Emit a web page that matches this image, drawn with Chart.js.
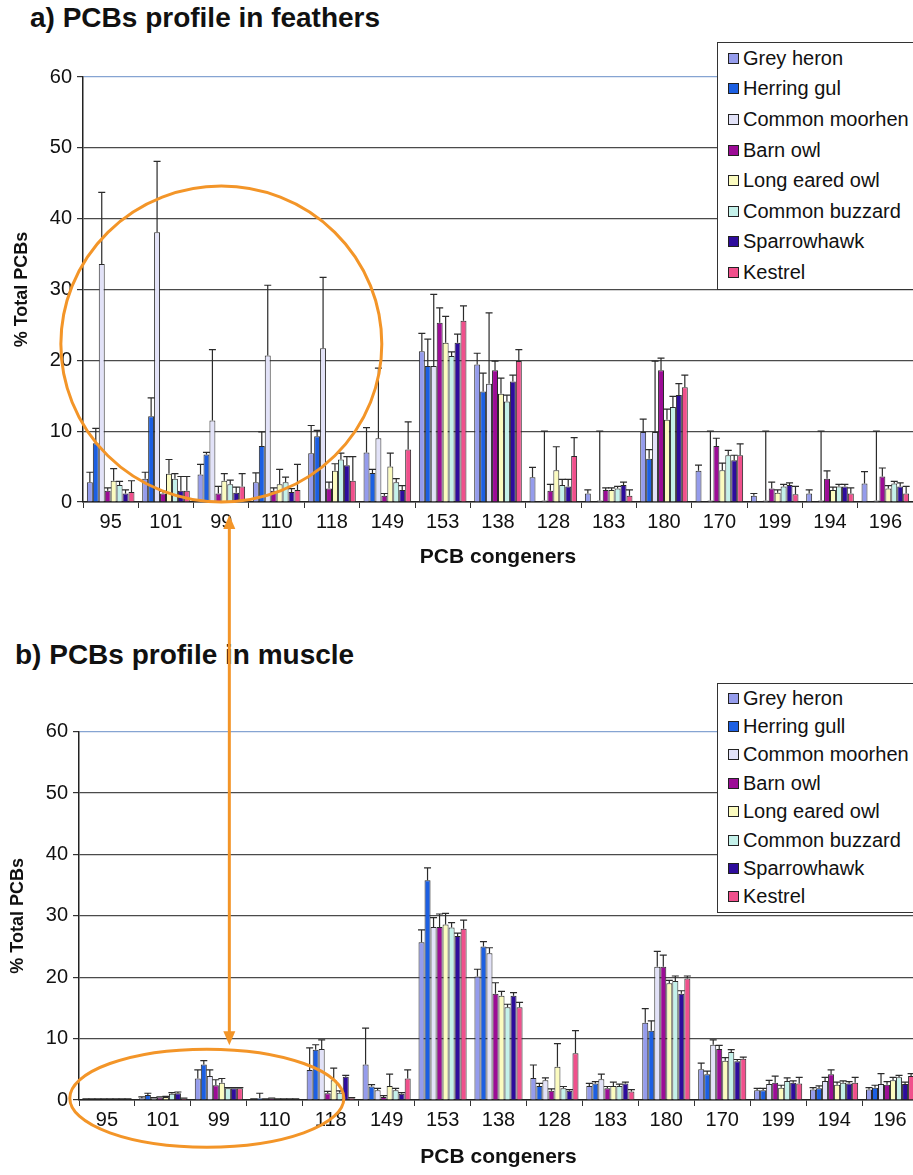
<!DOCTYPE html>
<html>
<head>
<meta charset="utf-8">
<script src="https://cdn.jsdelivr.net/npm/chart.js@4"></script>
<style>
  html, body { margin: 0; padding: 0; background: #fff; overflow: hidden; }
  body { width: 913px; height: 1175px; position: relative; font-family: "Liberation Sans", Arial, sans-serif; color: #111; }
  .panelTitle { position: absolute; font-weight: bold; font-size: 28px; line-height: 1; white-space: nowrap; }
  .chartBox { position: absolute; left: 0; }
  .legend { position: absolute; background: #fff; border: 1px solid #333; z-index: 2; }
  .legend .item { display: flex; align-items: center; font-size: 20px; white-space: nowrap; }
  .legend .sw { width: 9px; height: 9px; border: 1px solid #222; margin: 0 4px 0 10px; }
  #overlay { position: absolute; left: 0; top: 0; z-index: 5; pointer-events: none; }
</style>
</head>
<body>

<div class="panelTitle" style="left:30px; top:4px;">a) PCBs profile in feathers</div>
<div class="chartBox" style="top:0; width:913px; height:580px;"><canvas id="chartA" width="913" height="580"></canvas></div>
<div class="legend" id="legendA" style="left:717px; top:42px; width:220px; height:246px;"></div>

<div class="panelTitle" style="left:15px; top:641px;">b) PCBs profile in muscle</div>
<div class="chartBox" style="top:600px; width:918px; height:575px;"><canvas id="chartB" width="918" height="575"></canvas></div>
<div class="legend" id="legendB" style="left:717px; top:683px; width:220px; height:228px;"></div>

<canvas id="overlay" width="913" height="1175"></canvas>

<script>
// ============================================
// DATOS
// ============================================
const congeners = ['95', '101', '99', '110', '118', '149', '153', '138', '128', '183', '180', '170', '199', '194', '196'];

const speciesA = ['Grey heron', 'Herring gul', 'Common moorhen', 'Barn owl', 'Long eared owl', 'Common buzzard', 'Sparrowhawk', 'Kestrel'];
const speciesB = ['Grey heron', 'Herring gull', 'Common moorhen', 'Barn owl', 'Long eared owl', 'Common buzzard', 'Sparrowhawk', 'Kestrel'];
const colores = ['#959cec', '#1c5fe2', '#e2e2f8', '#9c0c96', '#fbfbbf', '#c4f1ea', '#2e0c9c', '#f0508c'];

// a) plumas - % del total de PCBs (media) y desviación
const heronA    = [2.8, 3.3, 3.9, 2.8, 6.9, 7.0, 21.3, 19.4, 3.5, 1.2, 9.9, 4.4, 0.9, 1.2, 2.6];
const heronA_sd = [1.4, 0.9, 1.4, 1.3, 3.9, 3.5, 2.5, 1.6, 1.4, 0.5, 1.8, 0.8, 0.3, 0.5, 1.7];
const gullA     = [8.3, 12.1, 6.7, 7.9, 9.3, 4.1, 19.2, 15.6, 0, 0, 6.1, 0, 0, 0, 0];
const gullA_sd  = [2.1, 2.6, 0.3, 2.0, 0.8, 0.5, 3.8, 2.6, 0, 0, 1.3, 0, 0, 0, 0];
const moorA     = [33.6, 38.1, 11.5, 20.7, 21.7, 9.0, 19.2, 16.7, 0.2, 0.2, 9.9, 0.2, 0.2, 0.2, 0.2];
const moorA_sd  = [10.1, 10.0, 10.0, 9.9, 10.0, 9.9, 10.1, 10.0, 9.8, 9.8, 10.0, 9.8, 9.8, 9.8, 9.8];
const barnA     = [1.6, 1.2, 1.2, 1.6, 1.9, 0.9, 25.3, 18.6, 1.6, 1.7, 18.6, 7.9, 1.9, 3.3, 3.6];
const barnA_sd  = [0.4, 0.3, 1.0, 0.4, 0.9, 0.3, 2.1, 1.3, 0.9, 0.3, 1.7, 1.1, 0.9, 1.1, 1.2];
const leoA      = [3.0, 4.0, 3.0, 2.5, 4.4, 5.0, 22.5, 15.3, 4.5, 1.7, 11.6, 4.5, 1.3, 1.7, 1.9];
const leoA_sd   = [1.7, 2.0, 1.0, 2.1, 1.0, 1.9, 3.7, 2.2, 3.3, 0.3, 1.5, 1.0, 0.4, 0.4, 0.4];
const buzzA     = [2.4, 3.3, 2.5, 2.8, 6.0, 2.8, 20.6, 14.2, 2.4, 1.9, 13.4, 6.6, 2.2, 2.2, 2.6];
const buzzA_sd  = [0.5, 0.7, 0.6, 0.7, 0.9, 0.5, 0.6, 0.9, 0.8, 0.3, 1.5, 0.7, 0.3, 0.3, 0.3];
const sparA     = [1.2, 1.6, 1.3, 1.4, 5.2, 1.7, 22.5, 17.0, 2.2, 2.4, 15.1, 5.9, 2.4, 2.2, 2.2];
const sparA_sd  = [0.5, 2.0, 0.8, 0.5, 1.2, 0.6, 1.2, 0.9, 1.0, 0.4, 1.6, 0.7, 0.3, 0.3, 0.5];
const kestA     = [1.4, 1.6, 2.2, 1.7, 3.0, 7.4, 25.6, 19.9, 6.5, 0.9, 16.2, 6.6, 1.1, 1.2, 1.2];
const kestA_sd  = [1.6, 2.0, 1.8, 3.6, 3.4, 3.9, 2.1, 1.6, 2.6, 0.8, 1.7, 1.6, 1.1, 0.8, 1.0];

// b) músculo
const heronB    = [0.1, 0.3, 3.5, 0.1, 4.9, 5.8, 25.7, 20.1, 3.6, 2.3, 12.6, 5.0, 1.6, 1.7, 1.7];
const heronB_sd = [0.1, 0.2, 1.4, 0.1, 3.6, 5.9, 2.0, 1.2, 2.1, 0.4, 2.3, 1.0, 0.3, 0.3, 0.3];
const gullB     = [0.1, 0.8, 5.8, 0.3, 8.2, 2.2, 35.8, 25.0, 2.3, 2.7, 11.3, 4.2, 1.6, 1.9, 2.0];
const gullB_sd  = [0.1, 0.3, 0.6, 0.8, 0.8, 0.3, 2.0, 0.8, 0.4, 0.3, 1.6, 0.5, 0.3, 0.4, 0.4];
const moorB     = [0.1, 0.3, 3.9, 0.1, 8.3, 1.6, 28.2, 23.9, 3.2, 3.4, 21.7, 9.0, 2.6, 3.1, 2.6];
const moorB_sd  = [0.1, 0.1, 1.0, 0.1, 1.5, 0.3, 1.5, 0.9, 0.4, 0.8, 2.5, 0.8, 0.6, 0.6, 1.7];
const barnB     = [0.1, 0.4, 2.4, 0.2, 1.1, 0.5, 28.2, 17.3, 1.5, 1.9, 21.7, 8.3, 2.8, 4.2, 2.5];
const barnB_sd  = [0.1, 0.1, 0.9, 0.1, 0.3, 0.2, 2.1, 1.8, 0.3, 0.3, 1.9, 0.6, 1.1, 0.7, 0.5];
const leoB      = [0.1, 0.5, 2.8, 0.1, 3.2, 2.3, 28.6, 17.0, 5.4, 2.3, 19.0, 6.4, 2.0, 2.5, 3.2];
const leoB_sd   = [0.1, 0.1, 0.7, 0.1, 2.0, 1.9, 1.8, 0.7, 3.8, 0.6, 0.5, 0.5, 0.4, 0.4, 0.5];
const buzzB     = [0.1, 1.0, 1.9, 0.1, 1.2, 1.6, 28.1, 15.1, 1.9, 2.3, 19.4, 7.8, 3.1, 2.8, 3.7];
const buzzB_sd  = [0.1, 0.2, 0.1, 0.1, 0.3, 0.3, 0.8, 0.5, 0.3, 0.3, 0.8, 0.4, 0.5, 0.3, 0.3];
const sparB     = [0.1, 1.1, 1.9, 0.1, 3.8, 1.0, 26.7, 17.0, 1.5, 2.7, 17.3, 6.3, 2.8, 2.7, 2.6];
const sparB_sd  = [0.1, 0.2, 0.1, 0.1, 0.2, 0.2, 0.5, 0.5, 0.2, 0.2, 0.5, 0.3, 0.3, 0.3, 0.3];
const kestB     = [0.1, 0.2, 1.9, 0.1, 0.3, 3.5, 27.9, 15.1, 7.6, 1.4, 19.8, 6.7, 2.7, 2.8, 3.9];
const kestB_sd  = [0.1, 0.1, 0.1, 0.1, 0.1, 1.4, 1.4, 0.8, 3.7, 0.3, 0.4, 0.3, 1.0, 0.9, 0.4];

const yTicks = [0, 10, 20, 30, 40, 50, 60];

const FONT = '"Liberation Sans", Arial, sans-serif';
Chart.defaults.font.family = FONT;
Chart.defaults.color = '#111';

// barras de error (solo hacia arriba, estilo Excel)
const errorBars = {
    id: 'errorBars',
    afterDatasetsDraw(chart) {
        const ctx = chart.ctx;
        const y = chart.scales.y;
        ctx.save();
        ctx.strokeStyle = '#2b2b2b';
        ctx.lineWidth = 1.2;
        chart.data.datasets.forEach((ds, i) => {
            chart.getDatasetMeta(i).data.forEach((bar, j) => {
                const sd = ds.errors[j];
                if (!sd) return;
                const top = y.getPixelForValue(ds.data[j] + sd);
                ctx.beginPath();
                ctx.moveTo(bar.x, bar.y);
                ctx.lineTo(bar.x, top);
                ctx.moveTo(bar.x - 3.5, top);
                ctx.lineTo(bar.x + 3.5, top);
                ctx.stroke();
            });
        });
        ctx.restore();
    }
};

function buildChart(id, values, errors, g) {
    const ctx = document.getElementById(id).getContext('2d');
    return new Chart(ctx, {
        type: 'bar',
        data: {
            labels: congeners,
            datasets: values.map((v, i) => ({
                data: v,
                errors: errors[i],
                backgroundColor: colores[i],
                borderColor: '#2a2a2a',
                borderWidth: 1,
                categoryPercentage: 0.86,
                barPercentage: 1.0
            }))
        },
        options: {
            responsive: false,
            animation: false,
            layout: { padding: { top: g.top, right: 0, left: 0, bottom: 0 } },
            plugins: { legend: { display: false }, tooltip: { enabled: false } },
            scales: {
                x: {
                    afterFit: s => { s.height = g.xHeight; },
                    grid: { offset: true, drawOnChartArea: false, drawTicks: true, tickLength: 6, color: '#333' },
                    border: { color: '#222', width: 1.5 },
                    ticks: { font: { size: 20 }, padding: 2, color: '#111' },
                    title: { display: true, text: 'PCB congeners', font: { size: 21, weight: 'bold' }, color: '#111', padding: { top: 0, bottom: g.xTitlePad } }
                },
                y: {
                    min: 0, max: 60,
                    afterFit: s => { s.width = g.yWidth; },
                    afterBuildTicks: s => { s.ticks = yTicks.map(v => ({ value: v })); },
                    grid: {
                        color: c => (c.tick && c.tick.value === 60) ? '#86a4d2' : '#4a4a4a',
                        lineWidth: 1.2, tickLength: 6, tickColor: '#333'
                    },
                    border: { color: '#222', width: 1.5 },
                    ticks: { font: { size: 20 }, padding: 5, color: '#111' },
                    title: { display: true, text: '% Total PCBs', font: { size: 18, weight: 'bold' }, color: '#111', padding: { top: g.yTitlePad, bottom: 0 } }
                }
            }
        },
        plugins: [errorBars]
    });
}

function buildLegend(id, names, rowH) {
    document.getElementById(id).innerHTML = names.map((n, i) =>
        `<div class="item" style="height:${rowH}px"><span class="sw" style="background:${colores[i]}"></span>${n}</div>`
    ).join('');
}

function drawAnnotations(chartA, chartB) {
    const ctx = document.getElementById('overlay').getContext('2d');
    const xa = chartA.scales.x, ya = chartA.scales.y;
    const xb = chartB.scales.x, yb = chartB.scales.y;
    const stepA = xa.getPixelForValue(1) - xa.getPixelForValue(0);
    const stepB = xb.getPixelForValue(1) - xb.getPixelForValue(0);
    const offB = 600; // desplazamiento vertical del gráfico b

    ctx.strokeStyle = '#f39528';
    ctx.fillStyle = '#f39528';
    ctx.lineWidth = 3;

    // elipse panel a (congéneres 95-118)
    const topA = ya.getPixelForValue(44.6), botA = ya.getPixelForValue(0);
    ctx.beginPath();
    ctx.ellipse(xa.getPixelForValue(2), (topA + botA) / 2, stepA * 2.9, (botA - topA) / 2, 0, 0, Math.PI * 2);
    ctx.stroke();

    // elipse panel b
    const cyB = yb.getPixelForValue(0.3) + offB;
    ctx.beginPath();
    ctx.ellipse(xb.getPixelForValue(2) - 12, cyB, stepB * 2.45, 49, 0, 0, Math.PI * 2);
    ctx.stroke();

    // flecha doble
    const ax = xa.getPixelForValue(2) + 8;
    const y1 = botA + 13, y2 = cyB - 53;
    ctx.beginPath();
    ctx.moveTo(ax, y1 + 12);
    ctx.lineTo(ax, y2 - 12);
    ctx.stroke();
    ctx.beginPath();
    ctx.moveTo(ax, y1); ctx.lineTo(ax - 6, y1 + 14); ctx.lineTo(ax + 6, y1 + 14); ctx.closePath();
    ctx.fill();
    ctx.beginPath();
    ctx.moveTo(ax, y2); ctx.lineTo(ax - 6, y2 - 14); ctx.lineTo(ax + 6, y2 - 14); ctx.closePath();
    ctx.fill();
}

document.addEventListener('DOMContentLoaded', function() {
    const chartA = buildChart('chartA',
        [heronA, gullA, moorA, barnA, leoA, buzzA, sparA, kestA],
        [heronA_sd, gullA_sd, moorA_sd, barnA_sd, leoA_sd, buzzA_sd, sparA_sd, kestA_sd],
        { top: 77, xHeight: 78, yWidth: 83, yTitlePad: 11, xTitlePad: 10 });
    const chartB = buildChart('chartB',
        [heronB, gullB, moorB, barnB, leoB, buzzB, sparB, kestB],
        [heronB_sd, gullB_sd, moorB_sd, barnB_sd, leoB_sd, buzzB_sd, sparB_sd, kestB_sd],
        { top: 131.7, xHeight: 75, yWidth: 79, yTitlePad: 7, xTitlePad: 5 });

    buildLegend('legendA', speciesA, 30.6);
    buildLegend('legendB', speciesB, 28.4);
    drawAnnotations(chartA, chartB);
});
</script>
</body>
</html>
